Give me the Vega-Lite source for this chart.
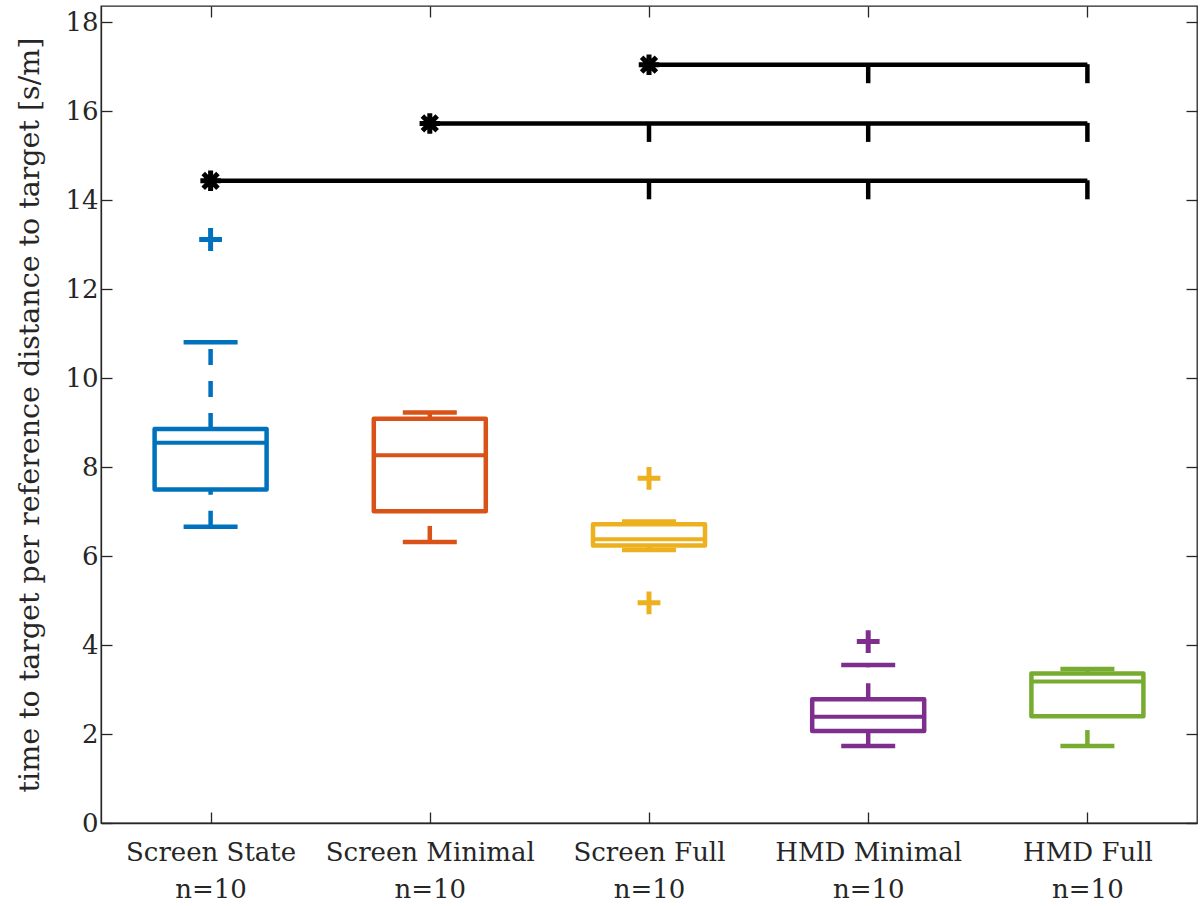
{
  "$schema": "https://vega.github.io/schema/vega-lite/v6.json",
  "width": 1096,
  "height": 817,
  "autosize": {"type": "none"},
  "padding": {"left": 101, "top": 6, "right": 5, "bottom": 83},
  "background": "white",
  "config": {
    "view": {"stroke": "#262626", "strokeWidth": 1.3},
    "axis": {
      "grid": false,
      "domainColor": "#262626",
      "domainWidth": 1.3,
      "tickColor": "#262626",
      "tickWidth": 1.3,
      "labelFont": "DejaVu Serif",
      "labelFontSize": 26,
      "labelLimit": 400,
      "labelColor": "#262626",
      "titleFont": "DejaVu Serif",
      "titleFontSize": 28.5,
      "titleFontWeight": "normal",
      "titleColor": "#262626"
    }
  },
  "datasets": {
    "boxes": [
      {"g": 1, "name": "Screen State", "lo": 6.66, "q1": 7.50, "med": 8.55, "q3": 8.86, "hi": 10.81},
      {"g": 2, "name": "Screen Minimal", "lo": 6.32, "q1": 7.01, "med": 8.27, "q3": 9.09, "hi": 9.23},
      {"g": 3, "name": "Screen Full", "lo": 6.14, "q1": 6.24, "med": 6.38, "q3": 6.72, "hi": 6.78},
      {"g": 4, "name": "HMD Minimal", "lo": 1.73, "q1": 2.07, "med": 2.39, "q3": 2.78, "hi": 3.55},
      {"g": 5, "name": "HMD Full", "lo": 1.73, "q1": 2.40, "med": 3.18, "q3": 3.36, "hi": 3.46}
    ],
    "outliers": [
      {"g": 1, "name": "Screen State", "v": 13.12},
      {"g": 3, "name": "Screen Full", "v": 7.75},
      {"g": 3, "name": "Screen Full", "v": 4.95},
      {"g": 4, "name": "HMD Minimal", "v": 4.08}
    ],
    "sig": [
      {"from": 1, "to": 5, "level": 14.44},
      {"from": 2, "to": 5, "level": 15.73},
      {"from": 3, "to": 5, "level": 17.05}
    ],
    "sigticks": [
      {"x": 3, "level": 14.44},
      {"x": 4, "level": 14.44},
      {"x": 5, "level": 14.44},
      {"x": 3, "level": 15.73},
      {"x": 4, "level": 15.73},
      {"x": 5, "level": 15.73},
      {"x": 4, "level": 17.05},
      {"x": 5, "level": 17.05}
    ]
  },
  "resolve": {"axis": {"x": "independent", "y": "independent"}},
  "layer": [
    {
      "data": {"name": "boxes"},
      "mark": {"type": "rule", "strokeWidth": 4.5, "strokeDash": [16, 16], "opacity": 1},
      "encoding": {
        "x": {
          "field": "g", "type": "quantitative",
          "scale": {"domain": [0.5, 5.5], "nice": false, "zero": false, "padding": 0},
          "axis": {
            "orient": "bottom",
            "values": [1, 2, 3, 4, 5],
            "labelExpr": "[['Screen State','Screen Minimal','Screen Full','HMD Minimal','HMD Full'][datum.value - 1], 'n=10']",
            "labelLineHeight": 37,
            "tickSize": -11,
            "labelPadding": 27,
            "title": null
          }
        },
        "y": {
          "field": "lo", "type": "quantitative",
          "scale": {"domain": [0, 18.37], "nice": false, "zero": false, "padding": 0},
          "axis": {
            "orient": "left",
            "values": [0, 2, 4, 6, 8, 10, 12, 14, 16, 18],
            "tickSize": -11,
            "labelPadding": 14,
            "title": "time to target per reference distance to target [s/m]",
            "titlePadding": 20
          }
        },
        "y2": {"field": "q1"},
        "color": {
          "field": "name", "type": "nominal", "legend": null,
          "scale": {
            "domain": ["Screen State", "Screen Minimal", "Screen Full", "HMD Minimal", "HMD Full"],
            "range": ["#0072BD", "#D95319", "#EDB120", "#7E2F8E", "#77AC30"]
          }
        }
      }
    },
    {
      "data": {"name": "boxes"},
      "mark": {"type": "rule", "strokeWidth": 4.5, "strokeDash": [16, 16], "opacity": 1},
      "encoding": {
        "x": {"field": "g", "type": "quantitative", "axis": null},
        "y": {"field": "q3", "type": "quantitative", "axis": null},
        "y2": {"field": "hi"},
        "color": {"field": "name", "type": "nominal", "legend": null}
      }
    },
    {
      "data": {"name": "boxes"},
      "mark": {"type": "bar", "filled": false, "width": 112, "strokeWidth": 4.5, "strokeJoin": "round", "opacity": 1},
      "encoding": {
        "x": {"field": "g", "type": "quantitative", "axis": null},
        "y": {"field": "q1", "type": "quantitative", "axis": null},
        "y2": {"field": "q3"},
        "color": {"field": "name", "type": "nominal", "legend": null}
      }
    },
    {
      "data": {"name": "boxes"},
      "mark": {"type": "tick", "orient": "horizontal", "size": 112, "thickness": 4, "opacity": 1},
      "encoding": {
        "x": {"field": "g", "type": "quantitative", "axis": null},
        "y": {"field": "med", "type": "quantitative", "axis": null},
        "color": {"field": "name", "type": "nominal", "legend": null}
      }
    },
    {
      "data": {"name": "boxes"},
      "mark": {"type": "tick", "orient": "horizontal", "size": 54, "thickness": 4.5, "opacity": 1},
      "encoding": {
        "x": {"field": "g", "type": "quantitative", "axis": null},
        "y": {"field": "lo", "type": "quantitative", "axis": null},
        "color": {"field": "name", "type": "nominal", "legend": null}
      }
    },
    {
      "data": {"name": "boxes"},
      "mark": {"type": "tick", "orient": "horizontal", "size": 54, "thickness": 4.5, "opacity": 1},
      "encoding": {
        "x": {"field": "g", "type": "quantitative", "axis": null},
        "y": {"field": "hi", "type": "quantitative", "axis": null},
        "color": {"field": "name", "type": "nominal", "legend": null}
      }
    },
    {
      "data": {"name": "outliers"},
      "mark": {"type": "point", "shape": "M-1,0L1,0M0,-1L0,1", "filled": false, "size": 520, "strokeWidth": 5, "opacity": 1},
      "encoding": {
        "x": {"field": "g", "type": "quantitative", "axis": null},
        "y": {"field": "v", "type": "quantitative", "axis": null},
        "color": {"field": "name", "type": "nominal", "legend": null}
      }
    },
    {
      "data": {"name": "sig"},
      "mark": {"type": "rule", "strokeWidth": 4.5, "color": "black", "opacity": 1},
      "encoding": {
        "x": {"field": "from", "type": "quantitative", "axis": null},
        "x2": {"field": "to"},
        "y": {"field": "level", "type": "quantitative", "axis": null}
      }
    },
    {
      "data": {"name": "sigticks"},
      "mark": {"type": "tick", "orient": "vertical", "size": 19, "thickness": 4.5, "yOffset": 9, "color": "black", "opacity": 1},
      "encoding": {
        "x": {"field": "x", "type": "quantitative", "axis": null},
        "y": {"field": "level", "type": "quantitative", "axis": null}
      }
    },
    {
      "data": {"name": "sig"},
      "mark": {"type": "point", "shape": "M-1,0L1,0M0,-1L0,1M-0.72,-0.72L0.72,0.72M-0.72,0.72L0.72,-0.72", "filled": false, "size": 420, "strokeWidth": 5, "color": "black", "opacity": 1},
      "encoding": {
        "x": {
          "field": "from", "type": "quantitative",
          "axis": {"orient": "top", "values": [1, 2, 3, 4, 5], "labels": false, "domain": false, "tickSize": -11, "title": null}
        },
        "y": {
          "field": "level", "type": "quantitative",
          "axis": {"orient": "right", "values": [0, 2, 4, 6, 8, 10, 12, 14, 16, 18], "labels": false, "domain": false, "tickSize": -11, "title": null}
        }
      }
    }
  ]
}
